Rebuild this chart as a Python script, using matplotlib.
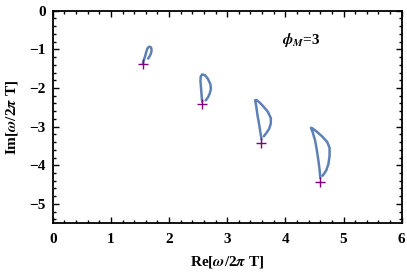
import numpy as np
import matplotlib
matplotlib.use('Agg')
import matplotlib.pyplot as plt
from matplotlib.ticker import MultipleLocator

plt.rcParams['font.family'] = 'Liberation Serif'
plt.rcParams['font.weight'] = 'bold'
plt.rcParams['mathtext.fontset'] = 'stix'

# traced loops (Re, Im) for each mode
re1 = [1.55, 1.57, 1.59, 1.61, 1.63, 1.66, 1.69, 1.70, 1.69, 1.67, 1.64]
im1 = [-1.36, -1.27, -1.17, -1.06, -0.97, -0.93, -0.95, -1.02, -1.10, -1.17, -1.24]
re2 = [2.57, 2.56, 2.55, 2.54, 2.545, 2.57, 2.62, 2.67, 2.71, 2.72, 2.70, 2.67, 2.63]
im2 = [-2.36, -2.20, -2.00, -1.82, -1.70, -1.65, -1.67, -1.77, -1.90, -2.02, -2.14, -2.24, -2.32]
re3 = [3.59, 3.57, 3.55, 3.52, 3.50, 3.48, 3.50, 3.56, 3.63, 3.70, 3.75, 3.75, 3.72, 3.67, 3.63]
im3 = [-3.33, -3.15, -2.95, -2.70, -2.48, -2.32, -2.31, -2.38, -2.49, -2.62, -2.78, -2.92, -3.06, -3.17, -3.25]
re4 = [4.60, 4.59, 4.57, 4.54, 4.51, 4.47, 4.44, 4.46, 4.53, 4.63, 4.72, 4.76, 4.76, 4.74, 4.70, 4.64]
im4 = [-4.33, -4.15, -3.90, -3.60, -3.35, -3.15, -3.03, -3.04, -3.12, -3.25, -3.40, -3.55, -3.75, -3.97, -4.14, -4.27]

# cross markers
cross_re = [1.55, 2.56, 3.58, 4.60]
cross_im = [-1.38, -2.42, -3.42, -4.43]

fig = plt.figure(figsize=(4.07, 2.78), dpi=100)
ax = fig.add_axes([0.1295, 0.197, 0.8575, 0.7645])

for xs, ys in [(re1, im1), (re2, im2), (re3, im3), (re4, im4)]:
    ax.plot(xs, ys, color='#5E81B5', lw=1.8, solid_capstyle='round', solid_joinstyle='round')
ax.plot(cross_re, cross_im, ls='none', marker='+', color='#800080', ms=7, mew=1.0)

ax.text(3.95, -0.76, r'$\phi_M$=3', fontsize=11, va='center', ha='left')

ax.set_xlim(0, 6)
ax.set_ylim(-5.5, 0)
ax.xaxis.set_major_locator(MultipleLocator(1))
ax.xaxis.set_minor_locator(MultipleLocator(0.2))
ax.yaxis.set_major_locator(MultipleLocator(1))
ax.yaxis.set_minor_locator(MultipleLocator(0.2))
ax.tick_params(which='both', direction='in', top=True, right=True, labelsize=11, width=1.0)
ax.tick_params(which='major', length=4)
ax.tick_params(which='minor', length=2)
ax.tick_params(axis='x', pad=7)
ax.tick_params(axis='y', pad=5)
for sp in ax.spines.values():
    sp.set_linewidth(1.3)

ax.set_xlabel(r'Re[$\omega$/2$\pi$ T]', fontsize=11, fontweight='bold', labelpad=6)
ax.set_ylabel(r'Im[$\omega$/2$\pi$ T]', fontsize=11, fontweight='bold', labelpad=7)

fig.savefig('out.png', dpi=100)
